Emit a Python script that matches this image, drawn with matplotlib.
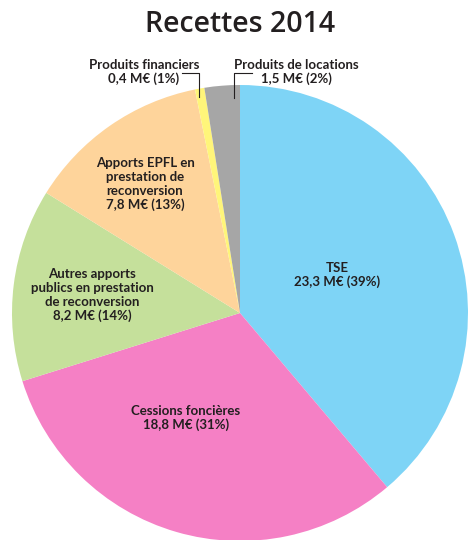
import matplotlib
matplotlib.use("Agg")
import matplotlib.pyplot as plt

# --- Data ---
labels = ["TSE", "Cessions foncières", "Autres apports\npublics en prestation\nde reconversion",
          "Apports EPFL en\nprestation de\nreconversion", "Produits financiers", "Produits de locations"]
values = [23.3, 18.8, 8.2, 7.8, 0.4, 1.5]
value_texts = ["23,3 M€ (39%)", "18,8 M€ (31%)", "8,2 M€ (14%)", "7,8 M€ (13%)",
               "0,4 M€ (1%)", "1,5 M€ (2%)"]
colors = ["#7ed4f6", "#f580c5", "#c5e09b", "#fed49b", "#fff57a", "#a6a6a6"]

W, H = 468, 540
CX, CY, R = 240, 313, 228


def to_data(px, py):
    return (px - CX) / R, (CY - py) / R


fig = plt.figure(figsize=(W / 100, H / 100), dpi=100)
fig.text(240 / W, 1 - 24 / H, "Recettes 2014", ha="center", va="center",
         fontsize=20.5, fontfamily="Open Sans", fontweight="semibold", color="#231f20")

ax = fig.add_axes([(CX - R) / W, (H - CY - R) / H, 2 * R / W, 2 * R / H])
ax.pie(values, colors=colors, startangle=90, counterclock=False, radius=1,
       wedgeprops=dict(linewidth=0))
ax.set_xlim(-1, 1)
ax.set_ylim(-1, 1)
ax.set_aspect("equal")
ax.axis("off")

# label positions in pixels (block centres)
label_pos = [(337, 275), (186, 418), (92, 295), (145, 184), (144, 72), (296, 72)]
txt_color = "#231f20"
for lab, vt, (px, py) in zip(labels, value_texts, label_pos):
    x, y = to_data(px, py)
    ax.text(x, y, lab + "\n" + vt, ha="center", va="center", fontsize=9.5,
            fontfamily="Lato", fontweight="bold", color=txt_color,
            linespacing=1.2, clip_on=False)

# leader lines for the two small slices
for pts in [[(182, 73), (199, 73), (199, 97)], [(252, 73), (234, 73), (234, 98)]]:
    xs, ys = zip(*[to_data(px, py) for px, py in pts])
    ax.plot(xs, ys, color="#231f20", linewidth=0.8, clip_on=False)

fig.savefig("out.png", dpi=100)
